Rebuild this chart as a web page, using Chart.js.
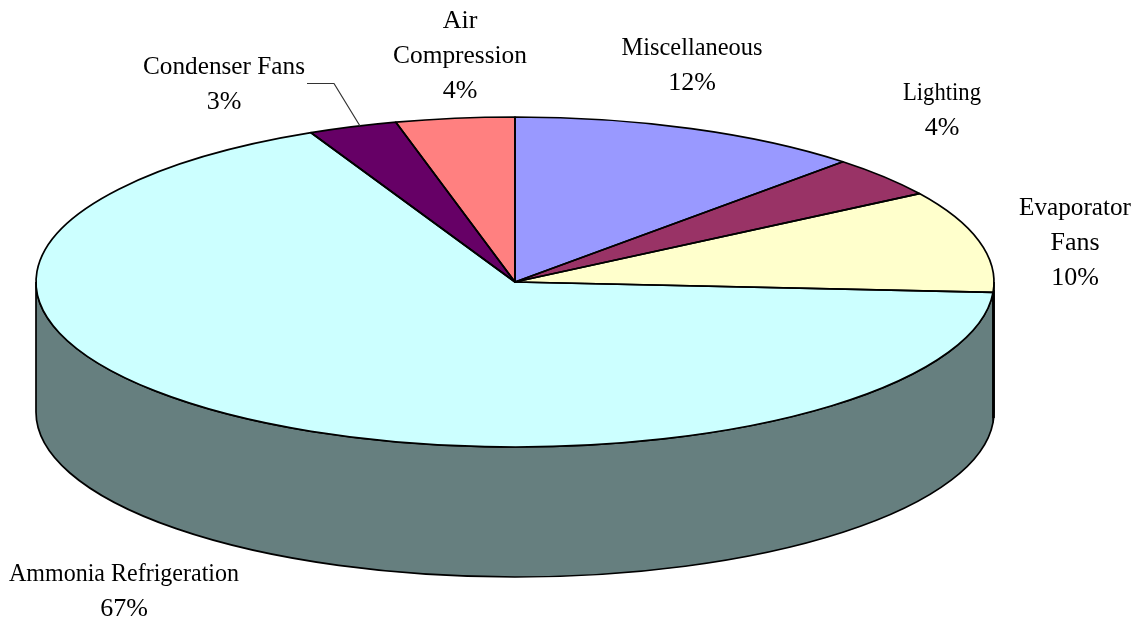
<!DOCTYPE html>
<html>
<head>
<meta charset="utf-8">
<title>Energy use by end use</title>
<script src="https://cdn.jsdelivr.net/npm/chart.js@4"></script>
<style>
    html, body { margin: 0; padding: 0; background: #fff; }
    canvas { display: block; }
</style>
</head>
<body>
<canvas id="myChart" width="1136" height="620"></canvas>
<script>
const categories = [
    ['Miscellaneous'],
    ['Lighting'],
    ['Evaporator', 'Fans'],
    ['Ammonia Refrigeration'],
    ['Condenser Fans'],
    ['Air', 'Compression']
];
const shares = [12, 4, 10, 67, 3, 4];
const sliceColors = ['#9999ff', '#993366', '#ffffcc', '#ccffff', '#660066', '#ff8080'];
const wallColors = ['#4c4c80', '#4c1933', '#808066', '#667f7f', '#330033', '#804040'];

// centre of each label block and the width its longest line is held to
const labelCentres = [[692, 48], [942, 93], [1075, 208], [124, 574], [224, 67], [460, 21]];
const labelWidths = [141, 78, 112, 230, 162, 134];
const lineHeight = 35;

// flattened disc
const discX = 515, discY = 282, discRx = 479, discRy = 165, discDepth = 130;

const discPlugin = {
    id: 'disc',
    beforeDatasetsDraw(chart) {
        const ctx = chart.ctx;
        const arcs = chart.getDatasetMeta(0).data;

        // side wall: only the part of each slice facing the viewer
        arcs.forEach((arc, i) => {
            const from = Math.max(arc.startAngle, 0);
            const to = Math.min(arc.endAngle, Math.PI);
            if (from >= to) return;
            ctx.beginPath();
            ctx.ellipse(discX, discY, discRx, discRy, 0, from, to);
            ctx.ellipse(discX, discY + discDepth, discRx, discRy, 0, to, from, true);
            ctx.closePath();
            ctx.fillStyle = wallColors[i];
            ctx.fill();
            ctx.lineWidth = 1.7;
            ctx.strokeStyle = '#000';
            ctx.stroke();
        });

        // heavier edge down the right side of the wall
        ctx.beginPath();
        ctx.moveTo(993.5, 290);
        ctx.lineTo(993.5, 418);
        ctx.lineWidth = 2.6;
        ctx.strokeStyle = '#000';
        ctx.stroke();

        // squash the round pie into the disc top
        const r = arcs[0].outerRadius;
        ctx.save();
        ctx.translate(discX, discY);
        ctx.scale(discRx / r, discRy / r);
        ctx.translate(-arcs[0].x, -arcs[0].y);
    },
    afterDatasetsDraw(chart) {
        const ctx = chart.ctx;
        ctx.restore();

        // outlines go on after the restore so the line width stays even
        chart.getDatasetMeta(0).data.forEach(arc => {
            ctx.beginPath();
            ctx.moveTo(discX, discY);
            ctx.ellipse(discX, discY, discRx, discRy, 0, arc.startAngle, arc.endAngle);
            ctx.closePath();
            ctx.lineWidth = 1.7;
            ctx.lineJoin = 'round';
            ctx.strokeStyle = '#000';
            ctx.stroke();
        });

        // leader for the small condenser slice
        ctx.beginPath();
        ctx.moveTo(307, 83.5);
        ctx.lineTo(334, 83.5);
        ctx.lineTo(360, 126);
        ctx.lineWidth = 1.2;
        ctx.strokeStyle = '#333';
        ctx.stroke();

        ctx.font = '26px "Liberation Serif"';
        ctx.fillStyle = '#000';
        ctx.textAlign = 'center';
        ctx.textBaseline = 'middle';
        categories.forEach((lines, i) => {
            const [x, y] = labelCentres[i];
            lines.concat(shares[i] + '%').forEach((text, n) => {
                ctx.fillText(text, x, y + n * lineHeight, labelWidths[i]);
            });
        });
    }
};

new Chart(document.getElementById('myChart'), {
    type: 'pie',
    data: {
        labels: categories,
        datasets: [{
            data: shares,
            backgroundColor: sliceColors,
            borderWidth: 0,
            clip: false
        }]
    },
    options: {
        responsive: false,
        animation: false,
        rotation: 0,
        layout: { padding: 0 },
        plugins: {
            legend: { display: false },
            tooltip: { enabled: false }
        }
    },
    plugins: [discPlugin]
});
</script>
</body>
</html>
